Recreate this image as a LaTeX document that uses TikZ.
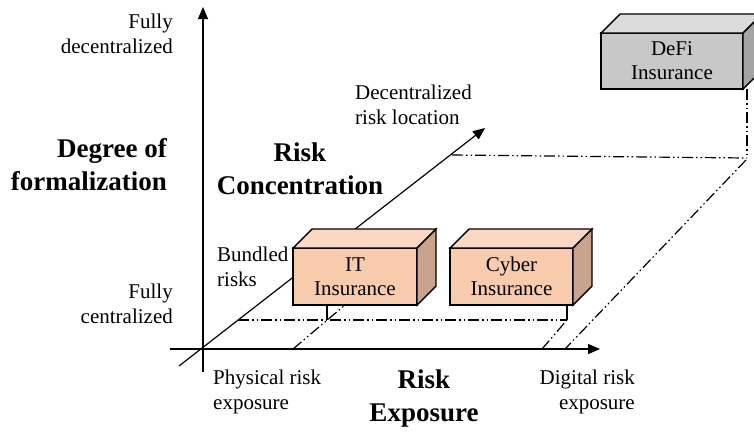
\documentclass[tikz,border=0pt]{standalone}
\usepackage{fontspec}
\setmainfont{Liberation Serif}
\usetikzlibrary{arrows.meta}

\definecolor{peachfront}{HTML}{F8CBAD}
\definecolor{peachtop}{HTML}{FAD8C3}
\definecolor{peachside}{HTML}{C9A38B}
\definecolor{greyfront}{HTML}{C8C8C8}
\definecolor{greytop}{HTML}{DBDBDB}
\definecolor{greyside}{HTML}{A4A4A4}

% top and right faces of a box whose front face is node #1
\newcommand\boxfaces[3]{%
  \draw[edge, fill=#2] (#1.north west) -- ([shift={(19,-19)}]#1.north west)
    -- ([shift={(19,-19)}]#1.north east) -- (#1.north east) -- cycle;
  \draw[edge, fill=#3] (#1.north east) -- ([shift={(19,-19)}]#1.north east)
    -- ([shift={(19,-19)}]#1.south east) -- (#1.south east) -- cycle;
}

\begin{document}
\begin{tikzpicture}[x=1pt,y=-1pt,
  axis/.style={line width=1.2pt,-{Triangle[length=12pt,width=10pt]}},
  guide/.style={line width=1.2pt,
    dash pattern=on 11pt off 3pt on 1.5pt off 3pt on 1.5pt off 3pt},
  drop/.style={line width=1.1pt},
  edge/.style={line width=1.4pt, line join=miter},
  front/.style={draw, edge, rectangle, outer sep=0pt, inner sep=0pt,
    align=center, font=\fontsize{21}{24}\selectfont},
  lbl/.style={inner sep=0pt, font=\fontsize{21}{25}\selectfont},
  title/.style={inner sep=0pt, font=\bfseries\fontsize{27}{33}\selectfont}]

\useasboundingbox (0,0) rectangle (754,432);

% axes
\coordinate (xs) at (170,349);  \coordinate (xe) at (600,349);
\coordinate (ys) at (203,372);  \coordinate (ye) at (203,7);
\coordinate (zs) at (179,366);  \coordinate (ze) at (485,128);

% guide points
\coordinate (zlow)  at (238,320);
\coordinate (zhigh) at (452,155);
\coordinate (itfoot) at (327,320);
\coordinate (cyfoot) at (567,320);
\coordinate (dffoot) at (747,158);
\coordinate (itbase) at (293,349);
\coordinate (ittop)  at (345,305);
\coordinate (cybase) at (542,349);
\coordinate (dfbase) at (565,349);
\coordinate (dfturn) at (746,160);

\draw[axis] (xs) -- (xe);
\draw[axis] (ys) -- (ye);
\draw[axis] (zs) -- (ze);

% dash-dotted projection lines
\draw[guide] (zlow) -- (cyfoot);
\draw[guide] (itbase) -- (ittop);
\draw[guide] (cybase) -- (cyfoot);
\draw[guide] (zhigh) -- (dffoot);
\draw[guide] (dfturn) -- (dfbase);

% boxes
\node[front, fill=peachfront, minimum width=124pt, minimum height=57pt]
  (it) at (355,276.5) {IT\\Insurance};
\boxfaces{it}{peachtop}{peachside}
\node[front, fill=peachfront, minimum width=123pt, minimum height=57pt]
  (cy) at (511.5,276.5) {Cyber\\Insurance};
\boxfaces{cy}{peachtop}{peachside}
\node[front, fill=greyfront, minimum width=142pt, minimum height=56pt]
  (df) at (672,61) {DeFi\\Insurance};
\boxfaces{df}{greytop}{greyside}

% drops from the boxes
\draw[drop] (it.south -| itfoot) -- (itfoot);
\draw[drop] (cy.south -| cyfoot) -- (cyfoot);
\draw[guide] (df.south -| dffoot) -- (dffoot);

% labels
\node[lbl, anchor=east, align=right] (fdec) at (173,34) {Fully\\decentralized};
\node[lbl, anchor=east, align=right] (fcen) at (173,304) {Fully\\centralized};
\node[lbl, anchor=west, align=left] (drl) at (355,105) {Decentralized\\risk location};
\node[lbl, anchor=west, align=left] (bund) at (217,267) {Bundled\\risks};
\node[lbl, anchor=west, align=left] (phys) at (213,392) {Physical risk\\exposure};
\node[lbl, anchor=east, align=right] (digi) at (635,392) {Digital risk\\exposure};
\node[title, anchor=east, align=right] (dof) at (167,165) {Degree of\\formalization};
\node[title, align=center] (rc) at (300,169) {Risk\\Concentration};
\node[title, align=center] (re) at (424,398) {Risk\\Exposure};
\end{tikzpicture}
\end{document}
